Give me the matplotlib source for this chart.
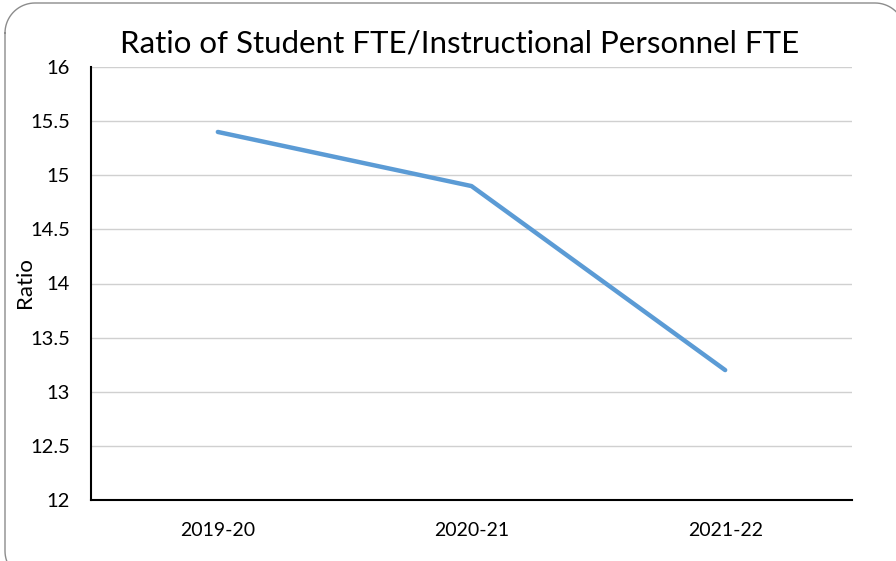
import matplotlib
matplotlib.use('Agg')

from matplotlib import pyplot as plt
import numpy as np

years = ['2019-20', '2020-21', '2021-22']
ratio = [15.4, 14.9, 13.2]
yticks = [12, 12.5, 13, 13.5, 14, 14.5, 15, 15.5, 16]
ytick_labels = ['12', '12.5', '13', '13.5', '14', '14.5', '15', '15.5', '16']

plt.rcParams['font.family'] = ['Lato', 'DejaVu Sans']

W, H = 896, 561
fig = plt.figure(figsize=(W / 100, H / 100), dpi=100)


def rounded_rect(left, top, right, bottom, r):
    # outline of a rounded rectangle in pixel coords (y down)
    t = np.linspace(0, np.pi / 2, 20)
    xs, ys = [], []
    for cx, cy, a0 in [(left + r, top + r, np.pi), (right - r, top + r, 1.5 * np.pi),
                       (right - r, bottom - r, 0), (left + r, bottom - r, 0.5 * np.pi)]:
        xs.extend(cx + r * np.cos(a0 + t))
        ys.extend(cy + r * np.sin(a0 + t))
    return xs + xs[:1], ys + ys[:1]


# background axes in pixel units, only for the rounded chart border
bg = fig.add_axes([0, 0, 1, 1])
bg.set_xlim(0, W)
bg.set_ylim(H, 0)
bg.axis('off')
bx, by = rounded_rect(5, 3, 905, 581, 30)
bg.plot(bx, by, color='#8c8c8c', linewidth=1.0)

ax = fig.add_axes([91 / W, 1 - 500 / H, (852 - 91) / W, (500 - 67) / H])
ax.patch.set_alpha(0)

x = range(len(years))
ax.plot(x, ratio, color='#5b9bd5', linewidth=3.2, solid_capstyle='round',
        solid_joinstyle='round', zorder=3)

ax.set_xlim(-0.5, len(years) - 0.5)
ax.set_ylim(12, 16)
ax.set_xticks(list(x))
ax.set_xticklabels(years, fontsize=14)
ax.set_yticks(yticks)
ax.set_yticklabels(ytick_labels, fontsize=14.5)
ax.tick_params(length=0)
ax.tick_params(axis='y', pad=15)
ax.tick_params(axis='x', pad=16)

ax.grid(axis='y', color='#d0d0d0', linewidth=1.0)
ax.set_axisbelow(True)
for s in ['top', 'right']:
    ax.spines[s].set_visible(False)
for s in ['left', 'bottom']:
    ax.spines[s].set_color('black')
    ax.spines[s].set_linewidth(1.5)

fig.text(25 / W, 1 - 283 / H, 'Ratio', fontsize=16, rotation=90,
         ha='center', va='center')
fig.text(460 / W, 1 - 53 / H, 'Ratio of Student FTE/Instructional Personnel FTE',
         fontsize=22.5, ha='center', va='baseline')

fig.savefig('out.png', dpi=100)
plt.close()
